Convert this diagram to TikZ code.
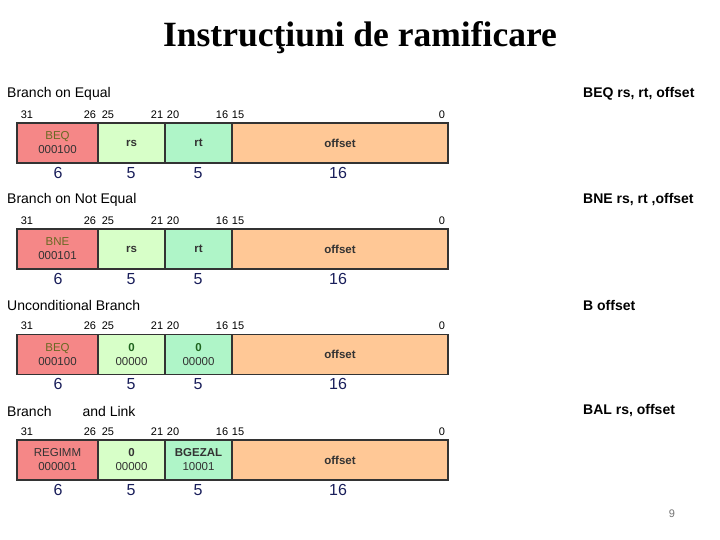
\documentclass[tikz,border=0pt]{standalone}
\usepackage{fontspec}
\setmainfont{Liberation Serif}
\setsansfont{Liberation Sans}
\definecolor{opred}{RGB}{245,135,135}
\definecolor{rsgreen}{RGB}{215,255,200}
\definecolor{rtgreen}{RGB}{175,245,200}
\definecolor{offpeach}{RGB}{255,200,150}
\definecolor{numblue}{RGB}{25,30,90}
\definecolor{opolive}{RGB}{105,105,35}
\definecolor{zerogreen}{RGB}{30,100,30}
\begin{document}
\begin{tikzpicture}[x=1pt,y=-1pt,
  field/.style={draw=black!80,line width=1.2pt,minimum height=40pt,inner sep=0pt,
    align=center,text=black!80,font=\sffamily\fontsize{11.5}{14}\selectfont},
  opf/.style={field,fill=opred,minimum width=81pt},
  rsf/.style={field,fill=rsgreen,minimum width=67pt},
  rtf/.style={field,fill=rtgreen,minimum width=67pt},
  offf/.style={field,fill=offpeach,minimum width=216pt},
  bitno/.style={inner sep=0pt,font=\sffamily\fontsize{11}{11}\selectfont},
  sizeno/.style={inner sep=0pt,text=numblue,font=\sffamily\fontsize{16}{16}\selectfont},
  rowtitle/.style={anchor=west,inner sep=0pt,font=\sffamily\fontsize{14}{15}\selectfont},
  asmline/.style={anchor=west,inner sep=0pt,font=\sffamily\bfseries\fontsize{14}{15}\selectfont}
]
  \useasboundingbox (0,0) rectangle (720,540);

  \node[font=\bfseries\fontsize{35.5}{38}\selectfont] (title) at (360,38) {Instrucţiuni de ramificare};

  % row titles and assembler syntax
  \node[rowtitle] (t1) at (7,94)  {Branch on Equal};
  \node[rowtitle] (t2) at (7,200) {Branch on Not Equal};
  \node[rowtitle] (t3) at (7,305) {Unconditional Branch};
  \node[rowtitle] (t4) at (7,411) {Branch\hspace{31pt}and Link};
  \node[asmline] (s1) at (583,94)  {BEQ rs, rt, offset};
  \node[asmline] (s2) at (583,200) {BNE rs, rt ,offset};
  \node[asmline] (s3) at (583,305) {B offset};
  \node[asmline] (s4) at (583,411) {BAL rs, offset};

  % bit positions and field sizes
  \foreach \y/\r in {115/a,221/b,326/c,432/d}{
    \foreach \x/\b in {27/31,90/26,108/25,157/21,173/20,222/16,238/15,442/0}
      \node[bitno] (bit\r\b) at (\x,\y) {\b};
    \node[sizeno] (sz\r op)  at (58,\y+58)  {6};
    \node[sizeno] (sz\r rs)  at (131,\y+58) {5};
    \node[sizeno] (sz\r rt)  at (198,\y+58) {5};
    \node[sizeno] (sz\r off) at (338,\y+58) {16};
  }

  % BEQ
  \node[opf]  (op1)  at (57.5,143)  {\textcolor{opolive}{BEQ}\\000100};
  \node[rsf]  (rs1)  at (131.5,143) {\bfseries rs};
  \node[rtf]  (rt1)  at (198.5,143) {\bfseries rt};
  \node[offf] (off1) at (340,143)   {\bfseries offset};
  % BNE
  \node[opf]  (op2)  at (57.5,249)  {\textcolor{opolive}{BNE}\\000101};
  \node[rsf]  (rs2)  at (131.5,249) {\bfseries rs};
  \node[rtf]  (rt2)  at (198.5,249) {\bfseries rt};
  \node[offf] (off2) at (340,249)   {\bfseries offset};
  % B
  \node[opf]  (op3)  at (57.5,354.5)  {\textcolor{opolive}{BEQ}\\000100};
  \node[rsf]  (rs3)  at (131.5,354.5) {\textcolor{zerogreen}{\bfseries 0}\\00000};
  \node[rtf]  (rt3)  at (198.5,354.5) {\textcolor{zerogreen}{\bfseries 0}\\00000};
  \node[offf] (off3) at (340,354.5)   {\bfseries offset};
  % BAL
  \node[opf]  (op4)  at (57.5,460)  {REGIMM\\000001};
  \node[rsf]  (rs4)  at (131.5,460) {\bfseries 0\\00000};
  \node[rtf]  (rt4)  at (198.5,460) {\bfseries BGEZAL\\10001};
  \node[offf] (off4) at (340,460)   {\bfseries offset};

  \node[text=black!55,font=\sffamily\fontsize{11}{11}\selectfont] (page) at (672,514) {9};
\end{tikzpicture}
\end{document}
